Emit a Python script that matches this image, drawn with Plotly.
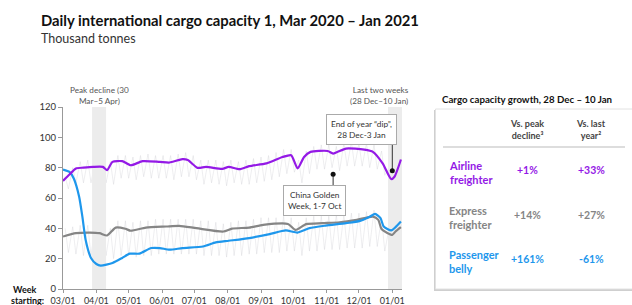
import plotly.graph_objects as go
import pandas as pd

# ---------------- data ----------------
air_dates = ["2020-03-01","2020-03-07","2020-03-13","2020-03-20","2020-03-29","2020-04-07","2020-04-11",
             "2020-04-16","2020-04-25","2020-05-03","2020-05-14","2020-05-30","2020-06-08","2020-06-20",
             "2020-06-25","2020-07-04","2020-07-12","2020-07-27","2020-08-02","2020-08-12","2020-08-21",
             "2020-09-06","2020-09-21","2020-09-29","2020-10-05","2020-10-11","2020-10-17","2020-11-02",
             "2020-11-07","2020-11-19","2020-12-06","2020-12-14","2020-12-23","2020-12-31","2021-01-03",
             "2021-01-09"]
air_vals = [71.3,75.5,79.5,80.0,80.5,80.5,78.4,83.8,84.3,81.6,84.3,83.8,83.4,85.6,85.0,79.9,80.5,79.2,
            80.5,79.0,81.0,82.8,87.0,88.2,79.5,87.0,90.4,91.0,89.3,92.6,91.9,90.4,82.8,72.5,74.0,85.4]

exp_dates = ["2020-03-01","2020-03-13","2020-03-26","2020-04-04","2020-04-11","2020-04-19","2020-04-28",
             "2020-05-03","2020-05-17","2020-06-05","2020-06-17","2020-07-03","2020-07-28","2020-08-05",
             "2020-08-21","2020-09-03","2020-09-26","2020-10-03","2020-10-13","2020-10-28","2020-11-13",
             "2020-11-29","2020-12-14","2020-12-19","2020-12-22","2021-01-01","2021-01-04","2021-01-09"]
exp_vals = [34.6,36.8,37.2,36.8,35.3,40.5,39.7,38.4,40.5,41.2,41.6,40.1,37.9,39.8,40.5,42.3,42.9,39.0,
            42.8,43.4,44.0,45.6,47.7,45.6,39.5,35.7,37.9,40.8]

pax_dates = ["2020-03-01","2020-03-07","2020-03-11","2020-03-16","2020-03-19","2020-03-22","2020-03-27",
             "2020-04-01","2020-04-05","2020-04-16","2020-04-25","2020-05-02","2020-05-11","2020-05-22",
             "2020-05-30","2020-06-08","2020-06-20","2020-07-09","2020-07-21","2020-08-02","2020-08-21",
             "2020-09-09","2020-09-24","2020-10-05","2020-10-16","2020-10-31","2020-11-19","2020-12-02",
             "2020-12-11","2020-12-16","2020-12-21","2020-12-24","2020-12-31","2021-01-04","2021-01-09"]
pax_vals = [78.8,77.2,72.9,60.9,47.7,32.5,20.5,16.5,15.4,17.2,20.5,23.3,23.3,27.0,27.0,25.9,27.0,28.0,
            30.7,31.8,33.6,36.2,38.6,37.2,40.1,41.8,43.4,44.9,47.7,49.5,46.7,41.2,38.6,40.8,44.5]

# faint daily series: weekly peaks and troughs
week_start = "2020-03-01"
air_daily_hi = [74,80,84,85,84,85,84,88,88,87,88,89,88,88,88,89,90,88,85,85,85,84,85,84,85,86,87,88,90,92,
                92,85,91,94,95,95,94,96,97,96,96,95,91,80,80]
air_daily_lo = [66,70,70,70,71,70,69,73,73,72,74,73,73,73,72,74,74,72,69,70,69,68,70,69,69,70,71,72,74,76,
                77,70,76,79,79,80,78,81,81,81,80,79,75,68,66]
exp_daily_hi = [40,41,42,42,42,41,40,45,45,44,45,45,46,46,46,46,46,46,45,45,44,43,44,45,45,46,47,47,47,48,
                47,44,47,48,48,48,49,49,50,50,51,52,47,40,42]
exp_daily_lo = [24,23,22,22,23,22,20,22,22,21,22,22,23,23,23,23,23,23,22,22,22,21,22,22,23,23,24,24,24,25,
                25,22,25,25,26,26,26,27,27,27,28,28,25,26,28]

tick_dates = ["2020-03-01","2020-04-01","2020-05-01","2020-06-01","2020-07-01","2020-08-01",
              "2020-09-01","2020-10-01","2020-11-01","2020-12-01","2021-01-01"]
tick_labels = ["03/01","04/01","05/01","06/01","07/01","08/01","09/01","10/01","11/01","12/01","01/01"]

bands = [("2020-03-28", "2020-04-10"), ("2020-12-28", "2021-01-10")]
dip_point = ("2021-01-01", 78)
golden_point = ("2020-11-07", 75.7)

table_rows = ["Airline<br>freighter", "Express<br>freighter", "Passenger<br>belly"]
vs_peak = ["+1%", "+14%", "+161%"]
vs_last_year = ["+33%", "+27%", "-61%"]

PURPLE = "#9419E6"
GREY = "#858585"
BLUE = "#1E97EC"
row_colors = [PURPLE, GREY, BLUE]
FONT = "Lato"

# ---------------- geometry helpers ----------------
W, H = 632, 305
ML, MR, MT, MB = 63, 230, 107, 16
L, R, T, B = ML, W - MR, MT, H - MB


def px(x):
    return (x - L) / (R - L)


def py(y):
    return (B - y) / (B - T)


def zigzag(hi, lo):
    xs, ys = [], []
    base = pd.Timestamp(week_start)
    for k, (h, l) in enumerate(zip(hi, lo)):
        d = base + pd.Timedelta(days=7 * k)
        xs += [d + pd.Timedelta(days=2), d + pd.Timedelta(days=5)]
        ys += [h, l]
    return xs, ys


fig = go.Figure()

for hi, lo in [(air_daily_hi, air_daily_lo), (exp_daily_hi, exp_daily_lo)]:
    zx, zy = zigzag(hi, lo)
    fig.add_trace(go.Scatter(x=zx, y=zy, mode="lines",
                             line=dict(color="rgba(195,195,200,0.28)", width=1),
                             hoverinfo="skip"))

# shaded bands drawn over the faint series
for b0, b1 in bands:
    fig.add_trace(go.Scatter(x=[b0, b1, b1, b0, b0], y=[0, 0, 120, 120, 0], mode="lines",
                             fill="toself", fillcolor="#ececec", line=dict(width=0),
                             hoverinfo="skip"))

for xs, ys, c in [(exp_dates, exp_vals, GREY), (pax_dates, pax_vals, BLUE), (air_dates, air_vals, PURPLE)]:
    fig.add_trace(go.Scatter(x=xs, y=ys, mode="lines",
                             line=dict(color=c, width=2.2, shape="spline", smoothing=0.6)))

# annotation connectors and dots
fig.add_trace(go.Scatter(x=[dip_point[0], dip_point[0]], y=[dip_point[1], 98], mode="lines",
                         line=dict(color="#333", width=1), hoverinfo="skip"))
fig.add_trace(go.Scatter(x=[golden_point[0], golden_point[0]], y=[golden_point[1], 66.4], mode="lines",
                         line=dict(color="#333", width=1), hoverinfo="skip"))
fig.add_trace(go.Scatter(x=[dip_point[0], golden_point[0]], y=[dip_point[1], golden_point[1]],
                         mode="markers", marker=dict(color="#111", size=5)))

fig.update_layout(
    width=W, height=H, showlegend=False,
    margin=dict(l=ML, r=MR, t=MT, b=MB, autoexpand=False),
    plot_bgcolor="white", paper_bgcolor="white",
    font=dict(family=FONT, color="#333"),
    xaxis=dict(range=["2020-03-01", "2021-01-10"], tickvals=tick_dates, ticktext=tick_labels,
               showgrid=False, zeroline=False, showline=True, linecolor="#999", linewidth=1,
               ticks="outside", ticklen=3, tickcolor="#999", tickfont=dict(size=9, color="#333")),
    yaxis=dict(range=[0, 120], tickvals=[0, 20, 40, 60, 80, 100, 120],
               showgrid=False, zeroline=False, showline=True, linecolor="#999", linewidth=1,
               ticks="outside", ticklen=4, tickcolor="#999", tickfont=dict(size=9.5, color="#333")),
)

ann = []


def text(x, y, t, size, color="#333", bold=False, xanchor="left", align="left", **kw):
    if bold:
        t = "<b>" + t.replace("<br>", "</b><br><b>") + "</b>"
    ann.append(dict(x=px(x), y=py(y), xref="paper", yref="paper", text=t, showarrow=False,
                    xanchor=xanchor, yanchor="middle", align=align,
                    font=dict(size=size, color=color, family=FONT), **kw))


text(39, 20, "Daily international cargo capacity 1, Mar 2020 – Jan 2021", 14.8, "#111", bold=True)
text(39, 38, "Thousand tonnes", 12.5, "#333")

text(99, 95, "Peak decline (30<br>Mar–5 Apr)", 8.2, "#555", xanchor="center", align="center")
text(411, 95, "Last two weeks<br>(28 Dec–10 Jan)", 8.2, "#555", xanchor="right", align="right")
text(361, 129, "End of year “dip”,<br>28 Dec-3 Jan", 8.3, "#333", xanchor="center", align="center",
     bordercolor="#aaa", borderwidth=1, borderpad=4, bgcolor="white")
text(314, 200, "China Golden<br>Week, 1-7 Oct", 8.3, "#333", xanchor="center", align="center",
     bordercolor="#aaa", borderwidth=1, borderpad=4, bgcolor="white")

text(25, 289.5, "Week", 9, "#111", bold=True, xanchor="center")
text(46, 300.5, "starting:", 9, "#111", bold=True, xanchor="right")

# table
text(440, 99, "Cargo capacity growth, 28 Dec – 10 Jan", 9.7, "#111", bold=True)
text(527, 129, "Vs. peak<br>decline³", 9, "#444", bold=True, xanchor="center", align="center")
text(591, 129, "Vs. last<br>year²", 9, "#444", bold=True, xanchor="center", align="center")
row_y = [172, 217, 261]
for lab, a, b, c, y in zip(table_rows, vs_peak, vs_last_year, row_colors, row_y):
    text(447, y, lab, 11, c, bold=True)
    text(527, y - 2, a, 10.5, c, bold=True, xanchor="center")
    text(591, y - 2, b, 10.5, c, bold=True, xanchor="center")
fig.update_layout(annotations=ann)

shapes = [
    dict(type="rect", xref="paper", yref="paper", x0=px(434), x1=px(700), y0=py(291), y1=py(110),
         fillcolor="#cfcfcf", line=dict(width=0), layer="above"),
    dict(type="rect", xref="paper", yref="paper", x0=px(435.5), x1=px(700), y0=py(289), y1=py(109),
         fillcolor="white", line=dict(color="#e2e2e2", width=1), layer="above"),
    dict(type="line", xref="paper", yref="paper", x0=px(443), x1=px(625), y0=py(147), y1=py(147),
         line=dict(color="#bbb", width=1), layer="above"),
]
fig.update_layout(shapes=shapes)

fig.write_html("out.html", config={"displayModeBar": False},
               post_script="document.body.style.margin='0px';document.body.style.overflow='hidden';")
